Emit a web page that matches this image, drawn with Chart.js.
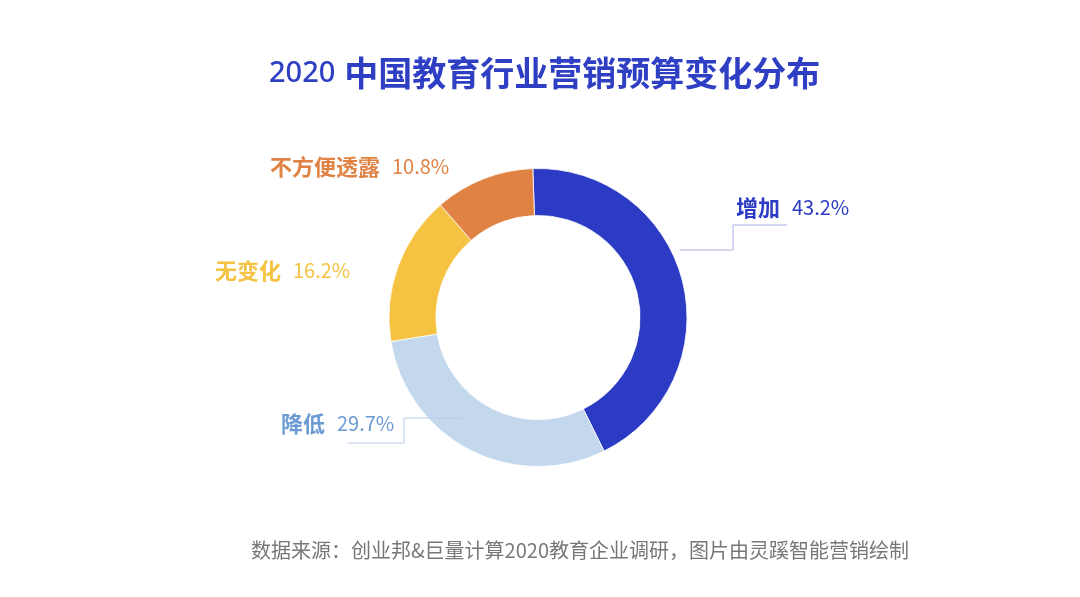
<!DOCTYPE html>
<html>
<head>
<meta charset="utf-8">
<script src="https://cdn.jsdelivr.net/npm/chart.js@4/dist/chart.umd.min.js"></script>
<style>
  html, body { margin: 0; padding: 0; background: #fff; }
  #wrap { width: 1080px; height: 597px; }
</style>
</head>
<body>
<div id="wrap"><canvas id="budgetChart" width="1080" height="597"></canvas></div>
<script>
// data
const categories = ["增加", "降低", "无变化", "不方便透露"];
const shares = [43.2, 29.7, 16.2, 10.8];
const sliceColors = ["#2c3bc3", "#c3d7ed", "#f5c242", "#e08244"];
const labelColors = ["#2c3bc3", "#6b9bd2", "#f5c242", "#e08244"];

const titleYear = "2020";
const titleText = "中国教育行业营销预算变化分布";
const sourceText = "数据来源：创业邦&巨量计算2020教育企业调研，图片由灵蹊智能营销绘制";

const CJK = '"Noto Sans CJK SC", "Noto Sans", sans-serif';

// where each label sits, relative to the ring centre
const labelOffsets = [
  { dx: 198, dy: -110 },
  { dx: -257, dy: 106 },
  { dx: -323, dy: -47 },
  { dx: -268, dy: -151 }
];

const annotations = {
  id: "annotations",
  afterDatasetsDraw(chart) {
    const ctx = chart.ctx;
    const arcs = chart.getDatasetMeta(0).data;
    const cx = arcs[0].x, cy = arcs[0].y;
    const R = arcs[0].outerRadius, r = arcs[0].innerRadius;

    ctx.save();
    // title: year in plain digits, rest in bold CJK
    ctx.textBaseline = "middle";
    ctx.textAlign = "left";
    ctx.fillStyle = "#2f3fc4";
    ctx.font = '500 29px "Noto Sans", sans-serif';
    ctx.fillText(titleYear, 269, 74);
    const yw = ctx.measureText(titleYear).width;
    ctx.font = "bold 34px " + CJK;
    ctx.fillText(titleText, 269 + yw + 9, 73);

    // source line
    ctx.textAlign = "center";
    ctx.fillStyle = "#777777";
    ctx.font = "20px " + CJK;
    ctx.fillText(sourceText, 580, 550);

    // leader lines
    ctx.lineWidth = 1;
    // 增加
    let dy = -67.5;
    let x0 = cx + Math.sqrt(R * R - dy * dy) + 9;
    ctx.strokeStyle = "#a9b0e6";
    ctx.beginPath();
    ctx.moveTo(x0, cy + dy);
    ctx.lineTo(cx + 195, cy + dy);
    ctx.lineTo(cx + 195, cy + dy - 25);
    ctx.lineTo(cx + 249, cy + dy - 25);
    ctx.stroke();
    // 降低
    dy = 100.5;
    const mid = (R + r) / 2;
    x0 = cx - Math.sqrt(mid * mid - dy * dy);
    ctx.strokeStyle = "#b9cce8";
    ctx.beginPath();
    ctx.moveTo(x0, cy + dy);
    ctx.lineTo(cx - 134, cy + dy);
    ctx.lineTo(cx - 134, cy + dy + 25);
    ctx.lineTo(cx - 190, cy + dy + 25);
    ctx.stroke();

    // slice labels
    ctx.textAlign = "left";
    categories.forEach((name, i) => {
      const x = cx + labelOffsets[i].dx;
      const y = cy + labelOffsets[i].dy;
      ctx.fillStyle = labelColors[i];
      ctx.font = "bold 22px " + CJK;
      ctx.fillText(name, x, y);
      const w = ctx.measureText(name).width;
      ctx.font = "20px " + CJK;
      ctx.fillText(shares[i].toFixed(1) + "%", x + w + 12, y);
    });
    ctx.restore();
  }
};

new Chart(document.getElementById("budgetChart"), {
  type: "doughnut",
  data: {
    labels: categories,
    datasets: [{
      data: shares,
      backgroundColor: sliceColors,
      borderColor: "rgba(255,255,255,0.8)",
      borderWidth: 1
    }]
  },
  options: {
    responsive: false,
    devicePixelRatio: 1,
    animation: false,
    rotation: -2,
    cutout: "68.5%",
    layout: { padding: { top: 168, bottom: 130, left: 238, right: 242 } },
    plugins: {
      legend: { display: false },
      tooltip: { enabled: false }
    }
  },
  plugins: [annotations]
});
</script>
</body>
</html>
